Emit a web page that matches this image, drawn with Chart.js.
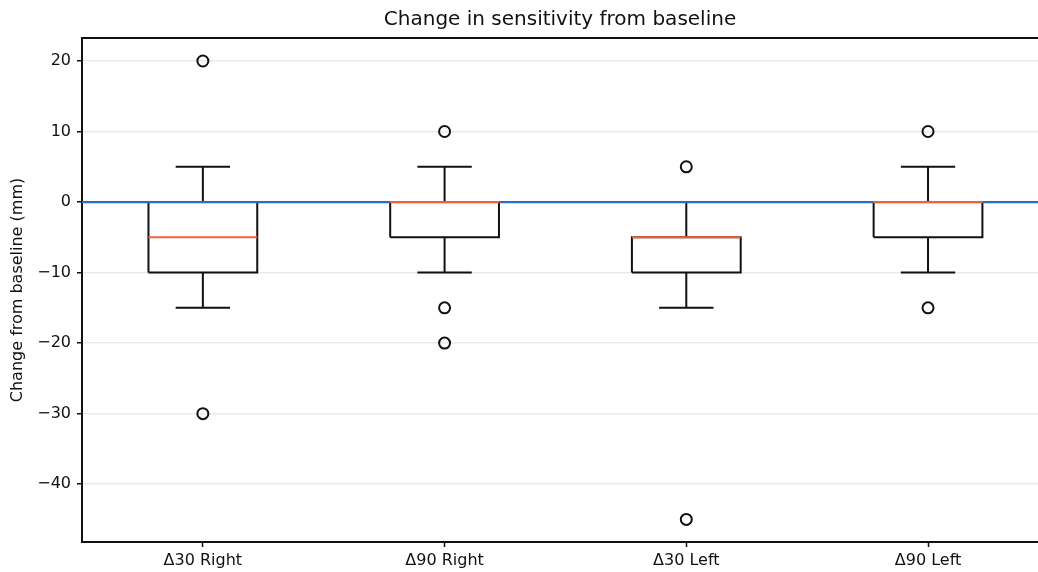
<!DOCTYPE html>
<html>
<head>
<meta charset="utf-8">
<script src="https://cdn.jsdelivr.net/npm/chart.js@4.4.1/dist/chart.umd.min.js"></script>
<style>
  html, body { margin: 0; padding: 0; background: #fff; }
  #wrap { width: 1038px; height: 572px; }
</style>
</head>
<body>
<div id="wrap"><canvas id="boxChart" width="1038" height="572"></canvas></div>
<script>
// Box plot values
const categories = ["Δ30 Right", "Δ90 Right", "Δ30 Left", "Δ90 Left"];
const whiskerHigh = [5, 5, 0, 5];
const q3 = [0, 0, -5, 0];
const medians = [-5, 0, -5, 0];
const q1 = [-10, -5, -10, -5];
const whiskerLow = [-15, -10, -15, -10];
const outliers = [[20, -30], [10, -15, -20], [5, -45], [10, -15]];
const yTicks = [-40, -30, -20, -10, 0, 10, 20];
const baseline = 0;

const boxHalf = 0.225;
const capHalf = 0.1125;
const font = "'DejaVu Sans', sans-serif";

// Build line segments (null breaks the line between pieces)
const gap = (x) => ({ x: x, y: null });
const boxLines = [];
const medianLines = [];
const outlierPoints = [];
categories.forEach((cat, i) => {
  // box outline
  boxLines.push(
    { x: i - boxHalf, y: q1[i] }, { x: i + boxHalf, y: q1[i] },
    { x: i + boxHalf, y: q3[i] }, { x: i - boxHalf, y: q3[i] },
    { x: i - boxHalf, y: q1[i] }, gap(i)
  );
  // lower whisker + cap
  boxLines.push({ x: i, y: q1[i] }, { x: i, y: whiskerLow[i] }, gap(i));
  boxLines.push({ x: i - capHalf, y: whiskerLow[i] }, { x: i + capHalf, y: whiskerLow[i] }, gap(i));
  // upper whisker + cap
  boxLines.push({ x: i, y: q3[i] }, { x: i, y: whiskerHigh[i] }, gap(i));
  boxLines.push({ x: i - capHalf, y: whiskerHigh[i] }, { x: i + capHalf, y: whiskerHigh[i] }, gap(i));
  // median
  medianLines.push({ x: i - boxHalf, y: medians[i] }, { x: i + boxHalf, y: medians[i] }, gap(i));
  outliers[i].forEach((v) => outlierPoints.push({ x: i, y: v }));
});

const ctx = document.getElementById("boxChart").getContext("2d");
new Chart(ctx, {
  type: "scatter",
  data: {
    datasets: [
      {
        label: "boxes",
        data: boxLines,
        showLine: true,
        spanGaps: false,
        borderColor: "#111111",
        borderWidth: 2,
        pointRadius: 0,
        order: 3,
      },
      {
        label: "baseline",
        data: [{ x: -0.5, y: baseline }, { x: 3.5, y: baseline }],
        showLine: true,
        borderColor: "#2b6cc4",
        borderWidth: 2.2,
        pointRadius: 0,
        order: 2,
      },
      {
        label: "medians",
        data: medianLines,
        showLine: true,
        spanGaps: false,
        borderColor: "#f2603a",
        borderWidth: 2,
        pointRadius: 0,
        order: 1,
      },
      {
        label: "outliers",
        data: outlierPoints,
        showLine: false,
        pointRadius: 5.5,
        pointBorderWidth: 2,
        pointBorderColor: "#111111",
        pointBackgroundColor: "rgba(0,0,0,0)",
        order: 0,
      },
    ],
  },
  options: {
    responsive: false,
    animation: false,
    devicePixelRatio: 1,
    layout: { autoPadding: false, padding: 0 },
    plugins: {
      legend: { display: false },
      tooltip: { enabled: false },
      title: {
        display: true,
        text: "Change in sensitivity from baseline",
        color: "#111",
        fullSize: false,
        font: { family: font, size: 20, weight: "normal", lineHeight: 1.2 },
        padding: { top: 8, bottom: 6 },
      },
    },
    scales: {
      x: {
        type: "linear",
        position: "bottom",
        min: -0.5,
        max: 3.455,
        afterBuildTicks: (scale) => {
          scale.ticks = categories.map((c, i) => ({ value: i }));
        },
        afterFit: (scale) => { scale.height = 30; },
        ticks: {
          color: "#111",
          font: { family: font, size: 16 },
          padding: 4,
          maxRotation: 0,
          callback: (v) => categories[v],
        },
        grid: { drawOnChartArea: false, tickColor: "#111", tickLength: 5, tickWidth: 1.5 },
        border: { color: "#111", width: 2 },
      },
      xTop: {
        type: "linear",
        position: "top",
        min: -0.5,
        max: 3.455,
        afterFit: (scale) => { scale.height = 0; },
        ticks: { display: false },
        grid: { display: false, drawTicks: false },
        border: { display: true, color: "#111", width: 2 },
      },
      y: {
        type: "linear",
        min: -48.2,
        max: 23.26,
        afterBuildTicks: (scale) => {
          scale.ticks = yTicks.map((v) => ({ value: v }));
        },
        afterFit: (scale) => { scale.width = 82; },
        ticks: {
          color: "#111",
          font: { family: font, size: 16 },
          padding: 6,
          callback: (v) => (v < 0 ? "\u2212" + Math.abs(v) : String(v)),
        },
        grid: { color: "#e6eaf1", lineWidth: 1.5, tickColor: "#111", tickLength: 5, tickWidth: 1.5 },
        border: { color: "#111", width: 2 },
        title: {
          display: true,
          text: "Change from baseline (mm)",
          color: "#111",
          font: { family: font, size: 16 },
          padding: { top: 8, bottom: 0 },
        },
      },
    },
  },
});
</script>
</body>
</html>
